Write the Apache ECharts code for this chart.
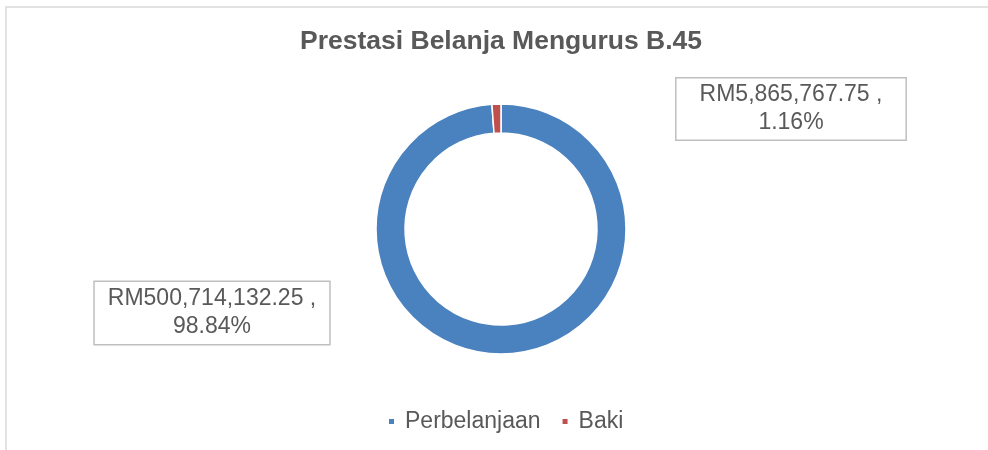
<!DOCTYPE html>
<html>
<head>
<meta charset="utf-8">
<title>Prestasi Belanja Mengurus B.45</title>
<script src="https://cdn.jsdelivr.net/npm/echarts@6.0.0/dist/echarts.min.js"></script>
<style>
  html, body { margin: 0; padding: 0; background: #fff; }
  #main { width: 988px; height: 450px; }
</style>
</head>
<body>
<div id="main"></div>
<script>
// data
const categories = ['Perbelanjaan', 'Baki'];
const amounts = [500714132.25, 5865767.75];

const colors = ['#4a81bf', '#c0504d'];
const textColor = '#595959';
const fontFamily = '"Liberation Sans", Arial, Helvetica, sans-serif';

// where Excel put the two data labels (box centres)
const labelSpots = [[212, 313], [791, 109]];
const labelPads = [[3, 13, 3, 13], [3, 23, 2, 23]];

const total = amounts.reduce((a, b) => a + b, 0);
const fmtRM = (v) => 'RM' + v.toLocaleString('en-US', { minimumFractionDigits: 2, maximumFractionDigits: 2 });

const chart = echarts.init(document.getElementById('main'), null, { renderer: 'canvas' });

chart.setOption({
  backgroundColor: '#fff',
  animation: false,
  title: {
    text: 'Prestasi Belanja Mengurus B.45',
    left: 295,
    top: 23,
    textStyle: { color: textColor, fontSize: 26.5, fontWeight: 'bold', fontFamily }
  },
  legend: {
    left: 382,
    top: 405,
    icon: 'rect',
    itemWidth: 7,
    itemHeight: 7,
    itemGap: 20,
    textStyle: { color: textColor, fontSize: 23, fontFamily, padding: [0, 0, 0, 5] },
    data: categories
  },
  graphic: [{
    type: 'polyline',
    shape: { points: [[6, 450], [6, 7], [988, 7]] },
    style: { stroke: '#d9d9d9', lineWidth: 1.5, fill: null },
    silent: true
  }],
  series: [{
    type: 'pie',
    center: [501, 229],
    radius: [96, 125],
    startAngle: 90,
    clockwise: true,
    avoidLabelOverlap: false,
    labelLine: { show: false },
    itemStyle: { borderColor: '#fff', borderWidth: 1.5 },
    emphasis: { disabled: true },
    label: {
      show: true,
      position: 'outside',
      color: textColor,
      fontSize: 23,
      lineHeight: 28,
      fontFamily,
      align: 'center',
      backgroundColor: '#fff',
      borderColor: '#bfbfbf',
      borderWidth: 1.5,
      formatter: (p) => fmtRM(p.value) + ' ,\n' + (p.value / total * 100).toFixed(2) + '%'
    },
    labelLayout: (p) => ({
      x: labelSpots[p.dataIndex][0],
      y: labelSpots[p.dataIndex][1],
      align: 'center',
      verticalAlign: 'middle',
      hideOverlap: false
    }),
    data: categories.map((name, i) => ({
      name,
      value: amounts[i],
      itemStyle: { color: colors[i] },
      label: { padding: labelPads[i] }
    }))
  }]
});
</script>
</body>
</html>
